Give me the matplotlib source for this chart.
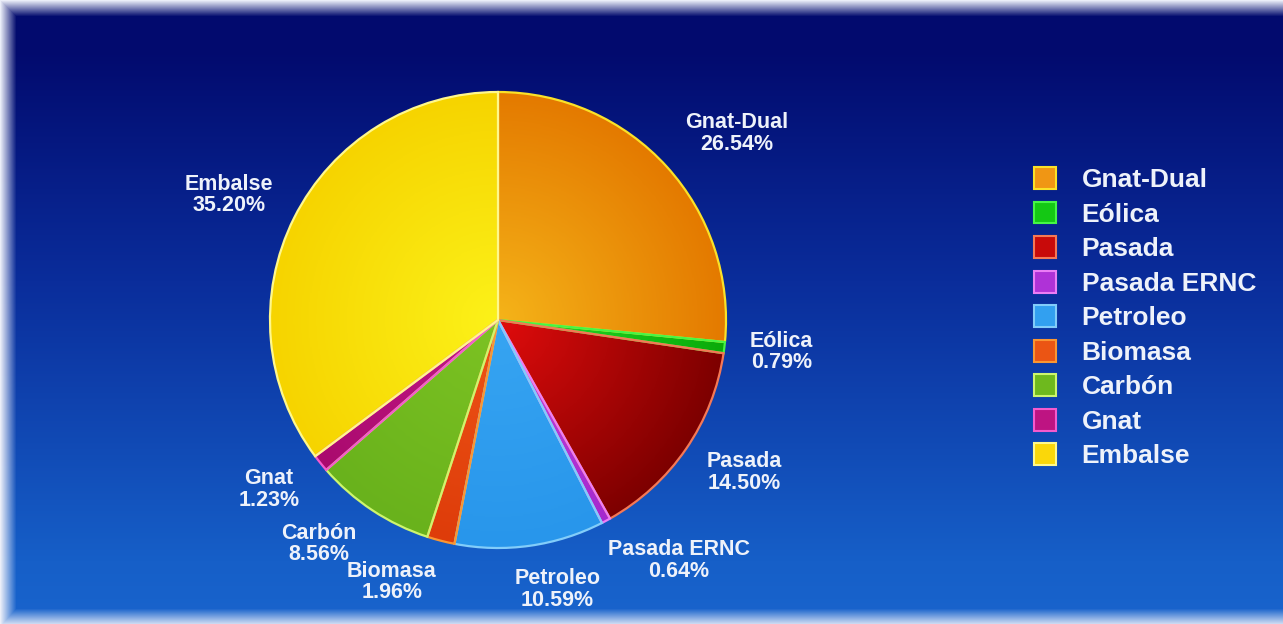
import numpy as np
import matplotlib
matplotlib.use("Agg")
import matplotlib.pyplot as plt
from matplotlib.patches import Patch

# ---- data ----
categories = ["Gnat-Dual", "Eólica", "Pasada", "Pasada ERNC", "Petroleo",
              "Biomasa", "Carbón", "Gnat", "Embalse"]
shares = [26.54, 0.79, 14.50, 0.64, 10.59, 1.96, 8.56, 1.23, 35.20]
pct_labels = ["26.54%", "0.79%", "14.50%", "0.64%", "10.59%",
              "1.96%", "8.56%", "1.23%", "35.20%"]

# ---- style ----
inner_cols = [(245, 180, 25), (40, 225, 40), (225, 12, 12), (195, 70, 225),
              (55, 165, 242), (238, 85, 22), (125, 195, 35), (195, 25, 135),
              (252, 242, 25)]
outer_cols = [(228, 122, 0), (10, 170, 10), (125, 0, 0), (165, 40, 205),
              (40, 150, 235), (222, 60, 10), (105, 178, 28), (170, 10, 110),
              (246, 212, 0)]
edge_cols = [(250, 225, 40), (70, 245, 70), (245, 120, 85), (235, 125, 245),
             (130, 205, 250), (250, 150, 50), (205, 245, 110), (245, 90, 205),
             (255, 248, 140)]
legend_fill = [(240, 150, 20), (20, 200, 20), (200, 10, 10), (175, 50, 215),
               (50, 160, 240), (235, 85, 20), (110, 185, 30), (190, 20, 130),
               (250, 215, 10)]
label_dist = [1.33, 1.25, 1.27, 1.32, 1.21, 1.24, 1.26, 1.25, 1.30]
label_shift = [-4.3, 0.5, 2.7, 8.7, 4.4, -7.5, -5.2, -2.4, 1.7]

def c(t):
    return tuple(v / 255 for v in t)

W, H = 1283, 624
fig = plt.figure(figsize=(W / 100, H / 100), dpi=100)

# ---- background panel with gradient and white frame fade ----
bg = fig.add_axes([0, 0, 1, 1])
bg.set_axis_off()
yy = np.linspace(0, 1, H)[:, None]
stops_y = [0.0, 0.08, 0.45, 0.9, 1.0]
stops_c = np.array([(2, 10, 110), (2, 10, 110), (10, 45, 155),
                    (22, 95, 200), (25, 100, 205)], float)
col = np.stack([np.interp(yy[:, 0], stops_y, stops_c[:, k]) for k in range(3)], -1)
img = np.repeat(col[:, None, :], W, axis=1)
ys = np.arange(H)[:, None]
xs = np.arange(W)[None, :]
top = np.clip((16 - ys) / 16, 0, 1)
left = np.clip((16 - xs) / 16, 0, 1)
bottom = np.clip((ys - (H - 16)) / 16, 0, 1) * 0.9
wfade = np.maximum(np.maximum(top, left), bottom)[..., None]
white = np.array([235, 238, 248], float)
img = img * (1 - wfade) + white * wfade
bg.imshow(img.astype(np.uint8), extent=[0, 1, 0, 1], aspect="auto", zorder=0)
bg.set_xlim(0, 1)
bg.set_ylim(0, 1)

# ---- pie ----
R = 228
L = 1.45
side = 2 * L * R
cx, cy = 498, H - 320
ax = fig.add_axes([(cx - side / 2) / W, (cy - side / 2) / H, side / W, side / H])
ax.set_axis_off()
wedges, _ = ax.pie(shares, startangle=90, counterclock=False, radius=1.0,
                   colors=[c(k) for k in outer_cols],
                   wedgeprops=dict(linewidth=1.6))
ax.set_xlim(-L, L)
ax.set_ylim(-L, L)
ax.set_aspect("equal")

g = np.linspace(-1, 1, 400)
gx, gy = np.meshgrid(g, g)
rr = np.clip(np.sqrt(gx ** 2 + gy ** 2), 0, 1)[..., None]
for w, ic, oc, ec in zip(wedges, inner_cols, outer_cols, edge_cols):
    grad = np.array(ic, float) * (1 - rr) + np.array(oc, float) * rr
    im = ax.imshow(grad.astype(np.uint8), extent=[-1, 1, -1, 1], origin="lower",
                   zorder=1)
    im.set_clip_path(w)
    w.set_facecolor("none")
    w.set_edgecolor(c(ec))
    w.set_zorder(2)

for w, name, pct, d, s in zip(wedges, categories, pct_labels, label_dist, label_shift):
    mid = np.deg2rad((w.theta1 + w.theta2) / 2 + s)
    ax.text(d * np.cos(mid), d * np.sin(mid), f"{name}\n{pct}",
            ha="center", va="center", color="#eef2fa", fontsize=15.5,
            fontweight="bold", family="Liberation Sans", linespacing=1.02,
            zorder=5)

# ---- legend ----
handles = [Patch(facecolor=c(f), edgecolor=c(e), linewidth=1.5)
           for f, e in zip(legend_fill, edge_cols)]
leg = fig.legend(handles, categories, loc="upper left",
                 bbox_to_anchor=(1034 / W, 1 - 167 / H), frameon=False,
                 prop=dict(family="Liberation Sans", weight="bold", size=19),
                 labelcolor="#eef2fa", handlelength=0.85, handleheight=0.9,
                 handletextpad=0.95, labelspacing=0.36, borderaxespad=0,
                 borderpad=0)

fig.savefig("out.png", dpi=100)
